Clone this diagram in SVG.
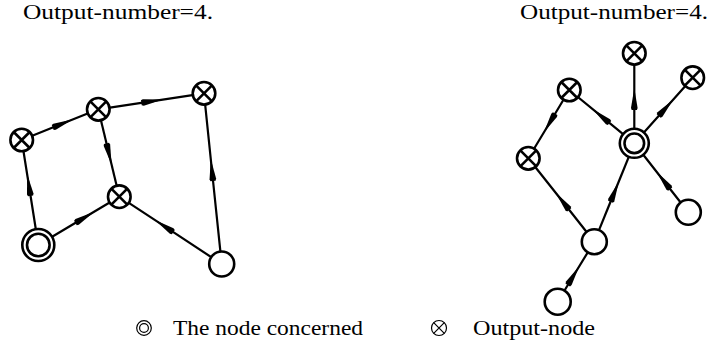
<svg xmlns="http://www.w3.org/2000/svg" xmlns:xlink="http://www.w3.org/1999/xlink" width="711" height="350" viewBox="0 0 711 350">
  <style>
    .edge { fill: none; stroke: #000; stroke-width: 2.2; marker-mid: url(#arr); }
    .ring { fill: #fff; stroke: #000; stroke-width: 2.6; }
    .cross { fill: none; stroke: #000; stroke-width: 2.6; }
    .thin { fill: none; stroke: #000; stroke-width: 1.2; }
    .title { font-family: "Liberation Serif", "DejaVu Serif", serif; font-size: 20px; fill: #000; }
    .legend { font-family: "Liberation Serif", "DejaVu Serif", serif; font-size: 20px; fill: #000; }
  </style>
  <defs>
    <!-- elongated arrowhead placed at the middle vertex of each connector -->
    <marker id="arr" markerUnits="userSpaceOnUse" viewBox="-12 -5 26 10" markerWidth="26" markerHeight="10" refX="0" refY="0" orient="auto">
      <path d="M12,0 L-8,-3.3 L-10,-2.6 L-10,2.6 L-8,3.3 Z" fill="#000"/>
    </marker>
    <!-- output node: circle with a cross -->
    <g id="outNode">
      <circle class="ring" r="11.3"/>
      <path class="cross" d="M-8,-8 L8,8 M-8,8 L8,-8"/>
    </g>
  </defs>

  <rect width="711" height="350" fill="#fff"/>

  <text class="title" x="23" y="19" textLength="190" lengthAdjust="spacingAndGlyphs">Output-number=4.</text>
  <text class="title" x="520" y="19" textLength="188" lengthAdjust="spacingAndGlyphs">Output-number=4.</text>

  <!-- connectors -->
  <g id="connectors">
    <!-- left graph -->
    <polyline class="edge" points="38.3,245 29,186 21.7,140"/>
    <polyline class="edge" points="21.7,140 62,123.8 98.3,109.3"/>
    <polyline class="edge" points="98.3,109.3 151.2,101.3 204,93.3"/>
    <polyline class="edge" points="98.3,109.3 108.8,153 119.3,196.7"/>
    <polyline class="edge" points="38.3,245 84,217.8 119.3,196.7"/>
    <polyline class="edge" points="221.7,264 165,226.7 119.3,196.7"/>
    <polyline class="edge" points="221.7,264 212,171 204,93.3"/>
    <!-- right graph -->
    <polyline class="edge" points="634.3,143.3 634.3,100 634.3,53.3"/>
    <polyline class="edge" points="634.3,143.3 665.3,108.5 692.7,77.7"/>
    <polyline class="edge" points="634.3,143.3 601.8,116.7 569.3,90"/>
    <polyline class="edge" points="569.3,90 550,122.2 528.3,158.3"/>
    <polyline class="edge" points="594.3,241.7 563,202 528.3,158.3"/>
    <polyline class="edge" points="594.3,241.7 614.3,192.5 634.3,143.3"/>
    <polyline class="edge" points="688.3,212.3 664,181.2 634.3,143.3"/>
    <polyline class="edge" points="557.7,301.7 573,276.5 594.3,241.7"/>
  </g>

  <!-- left graph nodes -->
  <g id="nodeA"><use xlink:href="#outNode" transform="translate(21.7,140)"/></g>
  <g id="nodeB"><use xlink:href="#outNode" transform="translate(98.3,109.3)"/></g>
  <g id="nodeC"><use xlink:href="#outNode" transform="translate(204,93.3)"/></g>
  <g id="nodeD"><use xlink:href="#outNode" transform="translate(119.3,196.7)"/></g>
  <g id="nodeE">
    <circle class="ring" cx="38.3" cy="245" r="16"/>
    <circle class="ring" cx="38.3" cy="245" r="11.3"/>
  </g>
  <g id="nodeF"><circle class="ring" cx="221.7" cy="264" r="12.5"/></g>

  <!-- right graph nodes -->
  <g id="nodeG"><use xlink:href="#outNode" transform="translate(634.3,53.3)"/></g>
  <g id="nodeH"><use xlink:href="#outNode" transform="translate(692.7,77.7)"/></g>
  <g id="nodeI"><use xlink:href="#outNode" transform="translate(569.3,90)"/></g>
  <g id="nodeK"><use xlink:href="#outNode" transform="translate(528.3,158.3)"/></g>
  <g id="nodeJ">
    <circle class="ring" cx="634.3" cy="143.3" r="14.5"/>
    <circle class="ring" cx="634.3" cy="143.3" r="9.8"/>
  </g>
  <g id="nodeL"><circle class="ring" cx="688.3" cy="212.3" r="12.5"/></g>
  <g id="nodeM"><circle class="ring" cx="594.3" cy="241.7" r="12.5"/></g>
  <g id="nodeN"><circle class="ring" cx="557.7" cy="301.7" r="13"/></g>

  <!-- legend: small thin key symbols with their captions -->
  <g id="legend">
    <circle class="thin" cx="144" cy="328" r="7.3"/>
    <circle class="thin" cx="144" cy="328" r="4.4"/>
    <text class="legend" x="173" y="335" textLength="190" lengthAdjust="spacingAndGlyphs">The node concerned</text>
    <circle class="thin" cx="439" cy="328" r="7.5"/>
    <path class="thin" d="M433.7,322.7 L444.3,333.3 M433.7,333.3 L444.3,322.7"/>
    <text class="legend" x="473" y="335" textLength="122" lengthAdjust="spacingAndGlyphs">Output-node</text>
  </g>
</svg>
